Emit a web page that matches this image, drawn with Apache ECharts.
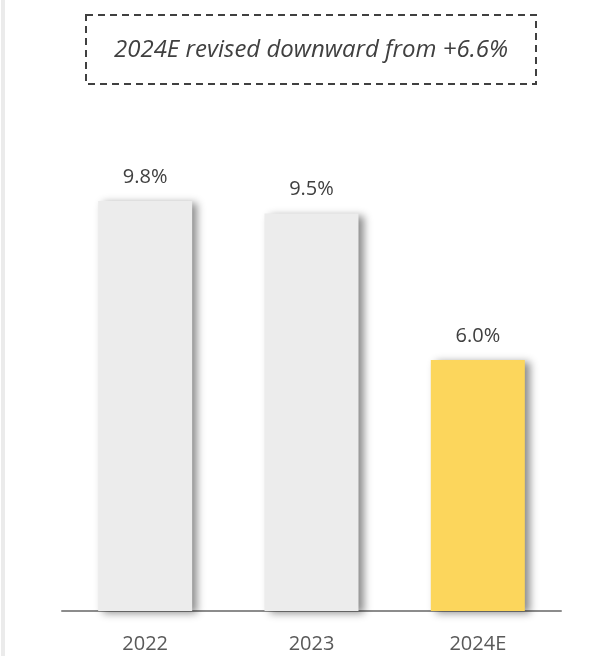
<!DOCTYPE html>
<html>
<head>
<meta charset="utf-8">
<script src="https://cdn.jsdelivr.net/npm/echarts@6/dist/echarts.min.js"></script>
<style>
    html, body { margin: 0; padding: 0; background: #fff; }
    #chart { width: 590px; height: 656px; }
</style>
</head>
<body>
<div id="chart"></div>
<script>
// data
const years = ['2022', '2023', '2024E'];
const growth = [9.8, 9.5, 6.0];
const barColors = ['#ececec', '#ececec', '#fcd65c'];
const note = '2024E revised downward from +6.6%';

const myChart = echarts.init(document.getElementById('chart'));

const option = {
    backgroundColor: '#ffffff',
    animation: false,
    textStyle: { fontFamily: 'Open Sans' },
    grid: {
        left: 62,
        right: 29,
        top: 109,
        bottom: 45
    },
    xAxis: {
        type: 'category',
        data: years,
        axisTick: { show: false },
        axisLine: { lineStyle: { color: '#8c8c8c', width: 2 } },
        axisLabel: {
            color: '#595959',
            fontSize: 20,
            margin: 23
        }
    },
    yAxis: {
        type: 'value',
        min: 0,
        max: 12,
        show: false,
        splitLine: { show: false }
    },
    series: [
        {
            type: 'bar',
            barWidth: 94,
            data: growth.map((v, i) => ({
                value: v,
                itemStyle: { color: barColors[i] }
            })),
            itemStyle: {
                shadowColor: 'rgba(0, 0, 0, 0.45)',
                shadowBlur: 8,
                shadowOffsetX: 5,
                shadowOffsetY: 2
            },
            label: {
                show: true,
                position: 'top',
                distance: 14,
                color: '#404040',
                fontSize: 20,
                formatter: (p) => p.value.toFixed(1) + '%'
            }
        }
    ],
    graphic: [
        // light strip on the left edge
        {
            type: 'rect',
            shape: { x: 1, y: 0, width: 4, height: 656 },
            style: { fill: '#ebebeb' },
            silent: true
        },
        {
            type: 'rect',
            shape: { x: 86, y: 15, width: 450, height: 69 },
            style: {
                fill: 'none',
                stroke: '#404040',
                lineWidth: 2,
                lineDash: [7, 5]
            }
        },
        {
            type: 'text',
            x: 311,
            y: 50,
            style: {
                text: note,
                fill: '#404040',
                font: 'italic 24px "Open Sans"',
                align: 'center',
                verticalAlign: 'middle'
            }
        }
    ]
};

myChart.setOption(option);
window.addEventListener('resize', () => myChart.resize());
</script>
</body>
</html>
